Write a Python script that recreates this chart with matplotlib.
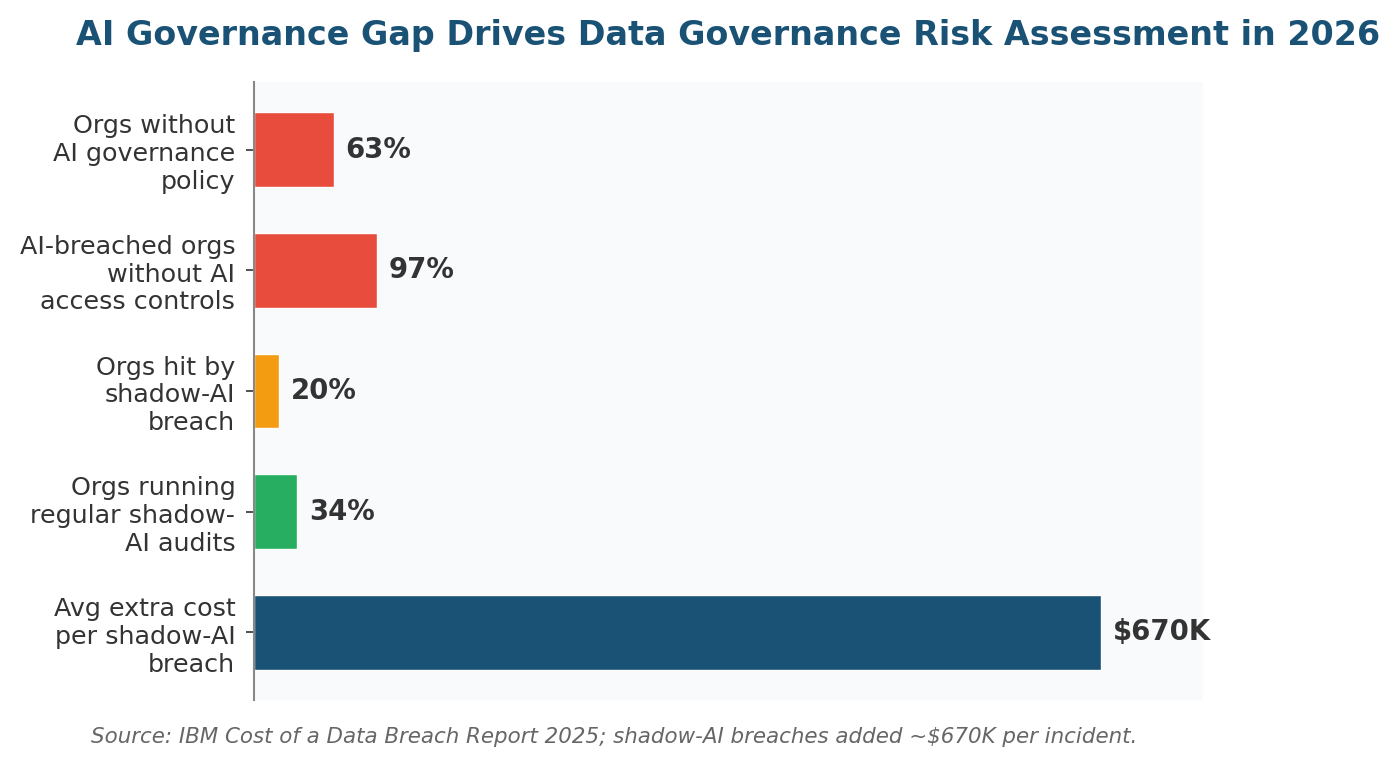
import matplotlib
matplotlib.use("Agg")
import matplotlib.pyplot as plt

categories = [
    "Orgs without\nAI governance\npolicy",
    "AI-breached orgs\nwithout AI\naccess controls",
    "Orgs hit by\nshadow-AI\nbreach",
    "Orgs running\nregular shadow-\nAI audits",
    "Avg extra cost\nper shadow-AI\nbreach",
]
values = [63, 97, 20, 34, 670]
value_labels = ["63%", "97%", "20%", "34%", "$670K"]
colors = ["#e74c3c", "#e74c3c", "#f39c12", "#27ae60", "#1a5276"]

title = "AI Governance Gap Drives Data Governance Risk Assessment in 2026"
source = "Source: IBM Cost of a Data Breach Report 2025; shadow-AI breaches added ~$670K per incident."

fig = plt.figure(figsize=(14, 7.67), dpi=100)
ax = fig.add_axes([254/1400, 1 - 700/767, (1203-254)/1400, (700-82)/767])
ax.set_facecolor("#f9fafc")

y = list(range(len(categories)))
ax.barh(y, values, height=0.62, color=colors, edgecolor="white", linewidth=1.0)
ax.set_yticks(y)
ax.set_yticklabels(categories, fontsize=18.3, color="#333333")
ax.invert_yaxis()
ax.set_xlim(0, max(values) * 1.12)
ax.set_ylim(4.56, -0.56)
ax.set_xticks([])
for s in ["top", "right", "bottom"]:
    ax.spines[s].set_visible(False)
ax.spines["left"].set_color("#888888")
ax.spines["left"].set_linewidth(1.5)
ax.tick_params(axis="y", length=5.5, width=1.2, color="#333333", pad=8)

for yi, v, lab in zip(y, values, value_labels):
    ax.annotate(lab, xy=(v, yi), xytext=(8.5, 0), textcoords="offset points",
                ha="left", va="center", fontsize=19.8, fontweight="bold", color="#333333")

fig.text((254 + 1203) / 2 / 1400, 1 - 35/767, title, ha="center", va="center",
         fontsize=24.0, fontweight="bold", color="#1a5276")
fig.text(91/1400, 1 - 737/767, source, ha="left", va="center",
         fontsize=15.4, style="italic", color="#666666")

fig.savefig("out.png", dpi=100)
